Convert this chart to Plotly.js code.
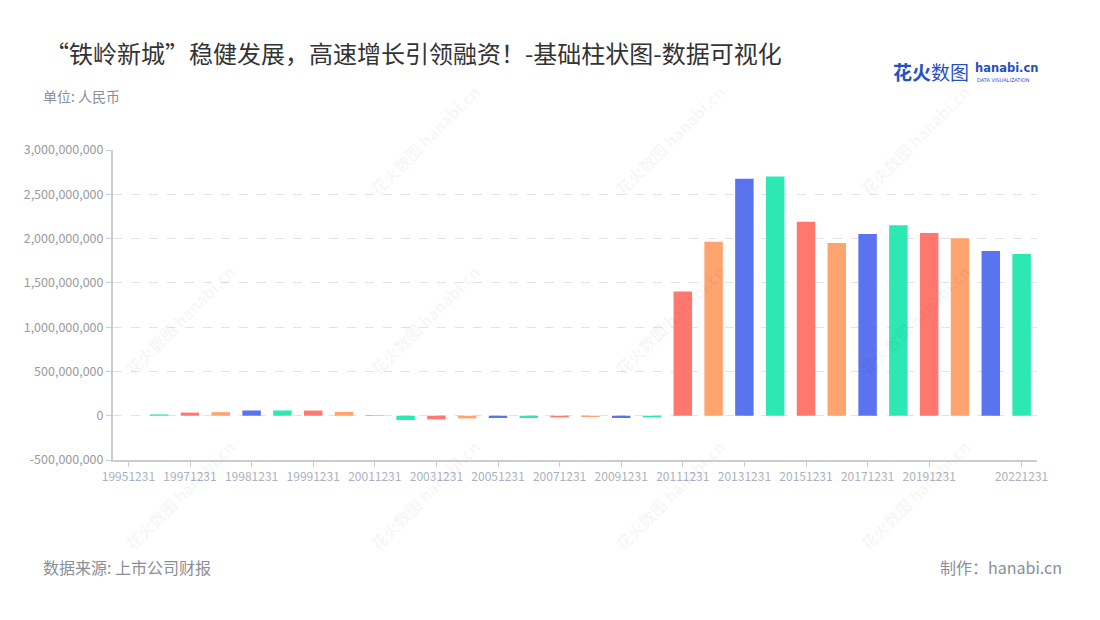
<!DOCTYPE html>
<html><head><meta charset="utf-8">
<script src="https://cdn.plot.ly/plotly-3.0.1.min.js"></script>
<style>html,body{margin:0;padding:0;background:#fff}#chart{width:1100px;height:620px}</style>
</head><body><div id="chart"></div>
<script>
// Data
const categories = ["19951231","19961231","19971231","19980630","19981231","19990630","19991231","20001231",
  "20011231","20021231","20031231","20041231","20051231","20061231","20071231","20081231","20091231","20101231",
  "20111231","20121231","20131231","20141231","20151231","20161231","20171231","20181231","20191231","20201231",
  "20211231","20221231"];
const values = [0, 15000000, 35000000, 40000000, 59000000, 59000000, 58000000, 43000000,
  4000000, -49000000, -41000000, -30000000, -26000000, -26000000, -19000000, -15000000, -26000000, -19000000,
  1403000000, 1965000000, 2675000000, 2700000000, 2190000000, 1950000000, 2053000000, 2150000000, 2064000000, 2005000000,
  1860000000, 1827000000];
const xLabelIndex = [0,2,4,6,8,10,12,14,16,18,20,22,24,26,29];
const yTicks = [-500000000, 0, 500000000, 1000000000, 1500000000, 2000000000, 2500000000, 3000000000];
const titleText = "“铁岭新城”稳健发展，高速增长引领融资！-基础柱状图-数据可视化";
const unitText = "单位: 人民币";
const sourceText = "数据来源: 上市公司财报";
const makerText = "制作：hanabi.cn";

// Styles
const palette = ["#5a73ee", "#2ee8b4", "#ff7870", "#ffa36f"];
const FONT = "'Noto Sans CJK SC', 'Noto Sans', sans-serif";
const W = 1100, H = 620;
const M = {l:113, r:63, t:150, b:160};
const PW = W - M.l - M.r, PH = H - M.t - M.b;

const trace = {
  type: "bar",
  x: categories,
  y: values,
  marker: { color: categories.map((c, i) => palette[i % palette.length]) },
  hoverinfo: "x+y"
};

const annotations = [];
function cx(px){ return (px - M.l) / PW; }
function cy(py){ return (H - M.b - py) / PH; }

annotations.push({xref:"paper", yref:"paper", x: cx(42), y: cy(96), xanchor:"left", yanchor:"middle",
  text: unitText, showarrow:false, borderpad:0, font:{family:FONT, size:14, color:"#8c8f96"}});
annotations.push({xref:"paper", yref:"paper", x: cx(42), y: cy(567), xanchor:"left", yanchor:"middle",
  text: sourceText, showarrow:false, borderpad:0, font:{family:FONT, size:16, color:"#8a8e98"}});
annotations.push({xref:"paper", yref:"paper", x: cx(1063), y: cy(567), xanchor:"right", yanchor:"middle",
  text: makerText, showarrow:false, borderpad:0, font:{family:FONT, size:16, color:"#8a8e98"}});
// logo
annotations.push({xref:"paper", yref:"paper", x: cx(891), y: cy(72), xanchor:"left", yanchor:"middle",
  text: "<b>花火</b>数图", showarrow:false, font:{family:FONT, size:19, color:"#2650c4"}});
annotations.push({xref:"paper", yref:"paper", x: cx(973), y: cy(68), xanchor:"left", yanchor:"middle",
  text: "<b>hanabi.cn</b>", showarrow:false, font:{family:"'DejaVu Sans', sans-serif", size:11.5, color:"#2650c4"}});
annotations.push({xref:"paper", yref:"paper", x: cx(975), y: cy(80), xanchor:"left", yanchor:"middle",
  text: "DATA VISUALIZATION", showarrow:false, font:{family:"'DejaVu Sans', sans-serif", size:5, color:"#2650c4"}});

// watermarks
const wmCenters = [[425,140],[670,140],[915,140],[180,320],[425,320],[670,320],[915,320],[180,495],[425,495],[670,495],[915,495]];
wmCenters.forEach(p => {
  annotations.push({xref:"paper", yref:"paper", x: cx(p[0]), y: cy(p[1]), xanchor:"center", yanchor:"middle",
    text: "<b>花火数图</b> <b>hanabi.cn</b>", textangle: -45, showarrow:false,
    font:{family:FONT, size:16, color:"rgba(0,0,0,0.05)"}});
});

const layout = {
  width: W, height: H,
  paper_bgcolor: "#ffffff", plot_bgcolor: "#ffffff",
  margin: {l:M.l, r:M.r, t:M.t, b:M.b, pad:0},
  showlegend: false,
  bargap: 0.4,
  title: {text: titleText, xref:"container", yref:"container", x: 45 / W, y: 1 - 55 / H,
    xanchor:"left", yanchor:"middle", font:{family:FONT, size:24, color:"#333333"}},
  xaxis: {
    type:"category", range:[-0.5, categories.length - 0.5],
    tickmode:"array", tickvals: xLabelIndex.map(i => categories[i]), ticktext: xLabelIndex.map(i => categories[i]),
    ticks:"outside", ticklen:5, tickcolor:"#cccccc", tickwidth:1,
    showline:true, linecolor:"#cccccc", linewidth:2,
    showgrid:false, zeroline:false,
    tickfont:{family:FONT, size:12, color:"#aab1c0"}, tickangle:0
  },
  yaxis: {
    range:[-500000000, 3000000000],
    tickmode:"array", tickvals: yTicks, ticktext: yTicks.map(v => v.toLocaleString("en-US")),
    ticks:"outside", ticklen:5, tickcolor:"#cccccc", tickwidth:1,
    showline:true, linecolor:"#cccccc", linewidth:2,
    showgrid:true, gridcolor:"#e3e3e3", griddash:"dash", gridwidth:1,
    zeroline:false,
    tickfont:{family:FONT, size:12.5, color:"#9a9a9a"}
  },
  annotations: annotations
};

Plotly.newPlot("chart", [trace], layout, {displayModeBar:false, staticPlot:true});
</script>
</body></html>
